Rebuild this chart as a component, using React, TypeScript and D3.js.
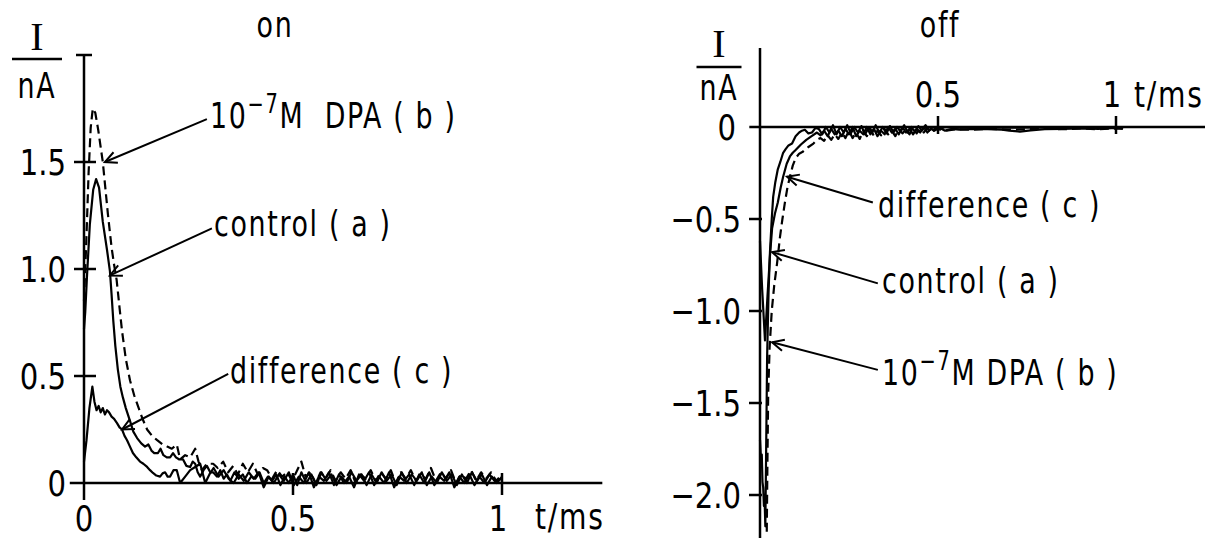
import React from "react";
import * as d3 from "d3";

// ---------- data: "on" panel (t in ms, I in nA) ----------
const onControl: [number, number][] = [
  [0,0.72],[0.003,0.8],[0.007,0.96],[0.014,1.21],[0.022,1.37],[0.029,1.42],[0.036,1.38],[0.045,1.22],[0.055,1.09],[0.062,0.99],[0.066,0.88],[0.07,0.76],[0.075,0.64],[0.081,0.53],[0.087,0.45],[0.093,0.4],[0.1,0.35],[0.11,0.29],[0.118,0.24],[0.127,0.21],[0.137,0.185],[0.146,0.17],[0.154,0.18],[0.162,0.15],[0.168,0.14],[0.177,0.14],[0.183,0.16],[0.19,0.13],[0.198,0.12],[0.206,0.12],[0.213,0.14],[0.22,0.12],[0.228,0.11],[0.237,0.11],[0.245,0.08],[0.254,0.075],[0.26,0.1],[0.266,0.09],[0.272,0.05],[0.278,0.03],[0.286,0.06],[0.294,0.08],[0.302,0.05],[0.309,0.05],[0.318,0.03],[0.326,0.06],[0.334,0.02],[0.342,0.04],[0.35,0.01],[0.36,0.05],[0.37,0.02],[0.38,0.04],[0.39,0.0],[0.4,0.03],[0.41,0.02],[0.42,0.05],[0.43,0.0],[0.44,0.03],[0.45,0.01],[0.46,0.04],[0.47,-0.01],[0.48,0.03],[0.49,0.0],[0.5,0.04],[0.51,-0.01],[0.52,0.05],[0.532,0.0],[0.544,0.04],[0.556,-0.01],[0.568,0.05],[0.58,0.01],[0.592,0.04],[0.604,-0.01],[0.616,0.03],[0.628,0.0],[0.64,0.05],[0.652,0.01],[0.664,0.04],[0.676,-0.01],[0.688,0.04],[0.7,0.0],[0.712,0.05],[0.724,0.01],[0.736,0.04],[0.748,-0.01],[0.76,0.05],[0.772,0.0],[0.784,0.04],[0.796,0.01],[0.808,0.05],[0.82,-0.01],[0.832,0.03],[0.844,0.0],[0.856,0.05],[0.868,0.01],[0.88,0.04],[0.892,-0.01],[0.904,0.04],[0.916,0.0],[0.928,0.05],[0.94,0.01],[0.952,0.04],[0.964,-0.01],[0.976,0.03],[0.988,0.0],[1.0,0.03]
];
const onDPA: [number, number][] = [
  [0,0.85],[0.005,1.1],[0.011,1.45],[0.016,1.66],[0.021,1.75],[0.027,1.73],[0.034,1.65],[0.045,1.5],[0.057,1.26],[0.066,1.1],[0.072,1.02],[0.078,0.95],[0.085,0.82],[0.091,0.71],[0.1,0.58],[0.11,0.48],[0.12,0.41],[0.129,0.36],[0.14,0.3],[0.151,0.25],[0.163,0.22],[0.175,0.2],[0.188,0.18],[0.199,0.17],[0.21,0.16],[0.222,0.18],[0.23,0.11],[0.242,0.13],[0.254,0.12],[0.266,0.16],[0.274,0.1],[0.282,0.06],[0.294,0.09],[0.309,0.09],[0.32,0.07],[0.333,0.1],[0.345,0.05],[0.357,0.08],[0.368,0.04],[0.38,0.09],[0.392,0.05],[0.404,0.09],[0.416,0.04],[0.428,0.07],[0.438,0.06],[0.45,0.02],[0.462,0.06],[0.474,0.03],[0.486,0.05],[0.498,0.01],[0.51,0.06],[0.52,0.1],[0.53,0.03],[0.542,0.05],[0.554,0.0],[0.566,0.05],[0.578,0.02],[0.59,0.06],[0.602,0.01],[0.614,0.05],[0.626,0.02],[0.638,0.06],[0.65,0.0],[0.662,0.04],[0.674,0.02],[0.686,0.06],[0.698,0.01],[0.71,0.05],[0.722,0.02],[0.734,0.06],[0.746,0.0],[0.758,0.05],[0.77,0.02],[0.782,0.06],[0.794,0.01],[0.806,0.04],[0.818,0.02],[0.83,0.07],[0.842,0.01],[0.854,0.05],[0.866,0.02],[0.878,0.06],[0.89,0.0],[0.902,0.04],[0.914,0.02],[0.926,0.06],[0.938,0.01],[0.95,0.05],[0.962,0.02],[0.974,0.05],[0.986,0.01],[1.0,0.04]
];
const onDiff: [number, number][] = [
  [0,0.1],[0.006,0.2],[0.013,0.35],[0.02,0.45],[0.025,0.38],[0.03,0.34],[0.035,0.36],[0.04,0.33],[0.045,0.35],[0.05,0.32],[0.055,0.34],[0.06,0.33],[0.066,0.31],[0.072,0.3],[0.079,0.28],[0.085,0.26],[0.091,0.25],[0.097,0.22],[0.103,0.2],[0.11,0.17],[0.117,0.14],[0.125,0.12],[0.134,0.1],[0.142,0.09],[0.151,0.075],[0.158,0.06],[0.165,0.047],[0.173,0.035],[0.182,0.03],[0.188,0.045],[0.194,0.05],[0.2,0.03],[0.206,0.03],[0.214,0.06],[0.222,0.06],[0.23,0.0],[0.242,0.03],[0.254,0.06],[0.266,0.075],[0.278,0.09],[0.29,0.0],[0.3,0.04],[0.31,0.07],[0.322,0.03],[0.334,0.06],[0.346,0.02],[0.358,0.0],[0.37,0.04],[0.382,0.01],[0.394,0.05],[0.406,0.02],[0.418,0.05],[0.43,-0.02],[0.442,0.03],[0.454,0.0],[0.466,0.04],[0.478,0.01],[0.49,0.05],[0.502,-0.01],[0.514,0.03],[0.526,0.0],[0.538,0.05],[0.55,-0.02],[0.562,0.03],[0.574,0.01],[0.586,0.05],[0.598,-0.01],[0.61,0.04],[0.622,0.0],[0.634,0.03],[0.646,-0.02],[0.658,0.04],[0.67,0.01],[0.682,0.05],[0.694,-0.01],[0.706,0.03],[0.718,0.0],[0.73,0.05],[0.742,-0.02],[0.754,0.03],[0.766,0.01],[0.778,0.04],[0.79,-0.01],[0.802,0.04],[0.814,0.0],[0.826,0.05],[0.838,-0.01],[0.85,0.03],[0.862,0.01],[0.874,0.05],[0.886,-0.02],[0.898,0.03],[0.91,0.0],[0.922,0.04],[0.934,-0.01],[0.946,0.03],[0.958,0.0],[0.97,0.04],[0.982,0.01],[1.0,0.02]
];

// ---------- data: "off" panel ----------
const offControl: [number, number][] = [
  [0,-0.62],[0.006,-0.88],[0.014,-1.16],[0.021,-0.92],[0.028,-0.7],[0.034,-0.55],[0.042,-0.47],[0.05,-0.41],[0.058,-0.33],[0.065,-0.27],[0.075,-0.2],[0.084,-0.16],[0.092,-0.14],[0.1,-0.125],[0.115,-0.095],[0.13,-0.07],[0.145,-0.05],[0.16,-0.03],[0.17,-0.045],[0.18,-0.02],[0.19,-0.05],[0.2,-0.01],[0.21,-0.04],[0.22,-0.02],[0.23,-0.05],[0.24,-0.01],[0.25,-0.04],[0.26,0.0],[0.27,-0.05],[0.28,-0.02],[0.29,-0.04],[0.3,0.0],[0.31,-0.04],[0.32,-0.01],[0.33,-0.05],[0.34,-0.02],[0.35,-0.04],[0.36,0.0],[0.37,-0.03],[0.38,-0.01],[0.39,-0.04],[0.4,0.0],[0.41,-0.03],[0.42,-0.01],[0.43,-0.04],[0.44,-0.01],[0.45,-0.03],[0.46,0.0],[0.47,-0.03],[0.48,-0.01],[0.49,-0.02],[0.5,0.0],[0.52,-0.02],[0.54,-0.01],[0.56,-0.015],[0.6,-0.01],[0.64,-0.012],[0.68,-0.015],[0.7,-0.02],[0.73,-0.025],[0.76,-0.018],[0.8,-0.012],[0.85,-0.01],[0.9,-0.008],[0.95,-0.01],[1.0,-0.005],[1.02,-0.006]
];
const offDPA: [number, number][] = [
  [0.019,-2.2],[0.021,-1.8],[0.023,-1.45],[0.027,-1.2],[0.033,-1.0],[0.04,-0.86],[0.048,-0.74],[0.056,-0.6],[0.063,-0.5],[0.07,-0.41],[0.077,-0.33],[0.084,-0.27],[0.092,-0.21],[0.1,-0.17],[0.11,-0.145],[0.12,-0.135],[0.135,-0.11],[0.15,-0.09],[0.16,-0.07],[0.17,-0.06],[0.18,-0.075],[0.19,-0.045],[0.2,-0.07],[0.21,-0.04],[0.22,-0.065],[0.23,-0.03],[0.24,-0.06],[0.25,-0.02],[0.26,-0.06],[0.27,-0.03],[0.28,-0.065],[0.29,-0.02],[0.3,-0.05],[0.31,-0.01],[0.32,-0.05],[0.33,-0.02],[0.34,-0.045],[0.35,-0.01],[0.36,-0.04],[0.37,-0.02],[0.38,-0.05],[0.39,-0.01],[0.4,-0.035],[0.41,-0.015],[0.42,-0.04],[0.43,0.0],[0.44,-0.035],[0.45,-0.01],[0.46,-0.03],[0.47,-0.005],[0.48,-0.025],[0.5,-0.01],[0.52,-0.02],[0.55,-0.012],[0.6,-0.015],[0.65,-0.01],[0.7,-0.015],[0.75,-0.012],[0.8,-0.01],[0.85,-0.012],[0.9,-0.008],[0.95,-0.012],[1.0,-0.008],[1.02,-0.01]
];
const offDiff: [number, number][] = [
  [0,-1.7],[0.003,-1.82],[0.005,-1.78],[0.007,-1.93],[0.009,-1.96],[0.011,-2.06],[0.013,-2.03],[0.015,-2.17],[0.02,-1.25],[0.024,-0.9],[0.028,-0.68],[0.033,-0.5],[0.037,-0.38],[0.043,-0.3],[0.05,-0.23],[0.057,-0.19],[0.065,-0.14],[0.072,-0.12],[0.08,-0.1],[0.09,-0.09],[0.1,-0.05],[0.11,-0.03],[0.118,-0.02],[0.126,-0.015],[0.136,-0.035],[0.146,-0.03],[0.156,-0.005],[0.165,-0.01],[0.175,-0.04],[0.185,0.0],[0.195,-0.03],[0.205,0.01],[0.215,-0.04],[0.225,0.0],[0.235,-0.03],[0.245,0.01],[0.255,-0.035],[0.265,0.0],[0.275,-0.03],[0.285,0.005],[0.295,-0.04],[0.305,-0.005],[0.315,-0.03],[0.325,0.01],[0.335,-0.03],[0.345,0.0],[0.355,-0.035],[0.365,0.005],[0.375,-0.03],[0.385,0.0],[0.395,-0.025],[0.405,0.01],[0.415,-0.03],[0.425,0.0],[0.435,-0.025],[0.445,0.005],[0.455,-0.02],[0.465,0.01],[0.475,-0.02],[0.485,0.0],[0.5,-0.015],[0.52,0.0],[0.55,-0.005],[0.6,-0.002],[0.7,-0.004],[0.8,-0.002],[0.9,-0.003],[1.0,-0.002],[1.02,-0.003]
];

// ---------- ticks ----------
const onYTicks = [0, 0.5, 1.0, 1.5];
const onYTickLabels = ["0", "0.5", "1.0", "1.5"];
const onXTicks = [0, 0.5, 1];
const onXTickLabels = ["0", "0.5", "1"];
const offYTicks = [0, -0.5, -1.0, -1.5, -2.0];
const offYTickLabels = ["0", "\u22120.5", "\u22121.0", "\u22121.5", "\u22122.0"];
const offXTicks = [0.5, 1];
const offXTickLabels = ["0.5", "1"];

const FONT = "'DejaVu Sans Condensed', 'DejaVu Sans', sans-serif";
const FS = 36;
const LS = 2;

const xOn = d3.scaleLinear().domain([0, 1]).range([84, 502]);
const yOn = d3.scaleLinear().domain([0, 2]).range([483, 55]);
const xOff = d3.scaleLinear().domain([0, 1]).range([760, 1116]);
const yOff = d3.scaleLinear().domain([0, -2]).range([127, 495]);

function Arrow({ x1, y1, x2, y2 }: { x1: number; y1: number; x2: number; y2: number }) {
  const a = Math.atan2(y1 - y2, x1 - x2);
  const L = 13, s = 0.45;
  const p1 = [x2 + L * Math.cos(a + s), y2 + L * Math.sin(a + s)];
  const p2 = [x2 + L * Math.cos(a - s), y2 + L * Math.sin(a - s)];
  return (
    <g stroke="#000" strokeWidth={2} fill="none">
      <line x1={x1} y1={y1} x2={x2} y2={y2} />
      <polyline points={`${p1[0]},${p1[1]} ${x2},${y2} ${p2[0]},${p2[1]}`} />
    </g>
  );
}

function T({ x, y, children, anchor = "start", size = FS, ls = LS, sx = 0.83 }: any) {
  return (
    <text transform={`translate(${x},${y}) scale(${sx},1)`} fontFamily={FONT} fontSize={size}
      letterSpacing={ls} textAnchor={anchor} fill="#000" xmlSpace="preserve">
      {children}
    </text>
  );
}

function DpaLabel({ x, y, gap }: { x: number; y: number; gap: string }) {
  return (
    <text transform={`translate(${x},${y}) scale(0.83,1)`} fontFamily={FONT} fontSize={FS}
      letterSpacing={LS} fill="#000" xmlSpace="preserve">
      10
      <tspan dy={-15} fontSize={26}>{"\u22127"}</tspan>
      <tspan dy={15}>{"M" + gap + "DPA ( b )"}</tspan>
    </text>
  );
}

function UnitLabel({ cx, yI, yLine, yNA, w }: any) {
  return (
    <g>
      <text x={cx} y={yI} fontFamily="'Liberation Serif', serif" fontSize={40} textAnchor="middle">I</text>
      <line x1={cx - w / 2} x2={cx + w / 2} y1={yLine} y2={yLine} stroke="#000" strokeWidth={2.5} />
      <T x={cx} y={yNA} anchor="middle">nA</T>
    </g>
  );
}

export default function App() {
  const lineOn = d3.line<[number, number]>().x((d) => xOn(d[0])).y((d) => yOn(d[1]));
  const lineOff = d3.line<[number, number]>().x((d) => xOff(d[0])).y((d) => yOff(d[1]));
  const sw = 2.2;
  return (
    <svg width={1205} height={538} style={{ position: "absolute", left: 0, top: 0, background: "#fff" }}>
      {/* ===== ON panel ===== */}
      <T x={275} y={37} anchor="middle">on</T>
      <UnitLabel cx={37} yI={50} yLine={59} yNA={98} w={50} />
      <g stroke="#000" strokeWidth={2.5}>
        <line x1={xOn(0)} x2={xOn(0)} y1={yOn(2)} y2={yOn(-0.08)} />
        <line x1={xOn(0) - 8} x2={xOn(0) + 8} y1={yOn(2)} y2={yOn(2)} />
        <line x1={xOn(-0.034)} x2={xOn(1.24)} y1={yOn(0)} y2={yOn(0)} />
        {onYTicks.filter((v) => v > 0).map((v) => (
          <line key={v} x1={xOn(0) - 10} x2={xOn(0) + 12} y1={yOn(v)} y2={yOn(v)} />
        ))}
        {onXTicks.filter((v) => v > 0).map((v) => (
          <line key={v} x1={xOn(v)} x2={xOn(v)} y1={yOn(0) - 10} y2={yOn(0) + 12} />
        ))}
      </g>
      {onYTicks.map((v, i) => (
        <T key={v} x={66} y={yOn(v) + 13} anchor="end" ls={0} sx={0.9}>{onYTickLabels[i]}</T>
      ))}
      {onXTicks.map((v, i) => (
        <T key={v} x={xOn(v) - (v === 1 ? 4 : 0)} y={531} anchor="middle" ls={0} sx={0.9}>{onXTickLabels[i]}</T>
      ))}
      <T x={535} y={529} sx={0.87}>t/ms</T>
      <g fill="none" stroke="#000" strokeWidth={sw} strokeLinejoin="round">
        <path d={lineOn(onDPA) || ""} strokeDasharray="9,5" />
        <path d={lineOn(onControl) || ""} />
        <path d={lineOn(onDiff) || ""} />
      </g>
      <DpaLabel x={210} y={128} gap="  " />
      <Arrow x1={xOn(0.294)} y1={yOn(1.7)} x2={xOn(0.05)} y2={yOn(1.5)} />
      <T x={214} y={236}>control ( a )</T>
      <Arrow x1={xOn(0.306)} y1={yOn(1.19)} x2={xOn(0.062)} y2={yOn(0.97)} />
      <T x={230} y={383}>difference ( c )</T>
      <Arrow x1={xOn(0.345)} y1={yOn(0.51)} x2={xOn(0.091)} y2={yOn(0.25)} />

      {/* ===== OFF panel ===== */}
      <T x={940} y={37} anchor="middle">off</T>
      <UnitLabel cx={719} yI={57} yLine={67} yNA={100} w={45} />
      <g stroke="#000" strokeWidth={2.5}>
        <line x1={xOff(0)} x2={xOff(0)} y1={yOff(0.43)} y2={yOff(-2.26)} />
        <line x1={xOff(-0.03)} x2={xOff(1.25)} y1={yOff(0)} y2={yOff(0)} />
        {offYTicks.filter((v) => v < 0).map((v) => (
          <line key={v} x1={xOff(0) - 11} x2={xOff(0) + 2} y1={yOff(v)} y2={yOff(v)} />
        ))}
        {offXTicks.map((v) => (
          <line key={v} x1={xOff(v)} x2={xOff(v)} y1={yOff(0) - 11} y2={yOff(0) + 7} />
        ))}
      </g>
      {offYTicks.map((v, i) => (
        <T key={v} x={v === 0 ? 736 : 741} y={yOff(v) + 13} anchor="end" ls={0} sx={0.9}>{offYTickLabels[i]}</T>
      ))}
      {offXTicks.map((v, i) => (
        <T key={v} x={xOff(v) - (v === 1 ? 4 : 0)} y={107} anchor="middle" ls={0} sx={0.9}>{offXTickLabels[i]}</T>
      ))}
      <T x={1134} y={107} sx={0.87}>t/ms</T>
      <g fill="none" stroke="#000" strokeWidth={sw} strokeLinejoin="round">
        <path d={lineOff(offDPA) || ""} strokeDasharray="9,5" />
        <path d={lineOff(offControl) || ""} />
        <path d={lineOff(offDiff) || ""} />
      </g>
      <T x={878} y={217}>difference ( c )</T>
      <Arrow x1={xOff(0.317)} y1={yOff(-0.41)} x2={xOff(0.076)} y2={yOff(-0.27)} />
      <T x={882} y={293}>control ( a )</T>
      <Arrow x1={xOff(0.331)} y1={yOff(-0.85)} x2={xOff(0.034)} y2={yOff(-0.68)} />
      <DpaLabel x={882} y={385} gap=" " />
      <Arrow x1={xOff(0.331)} y1={yOff(-1.32)} x2={xOff(0.034)} y2={yOff(-1.17)} />
    </svg>
  );
}
